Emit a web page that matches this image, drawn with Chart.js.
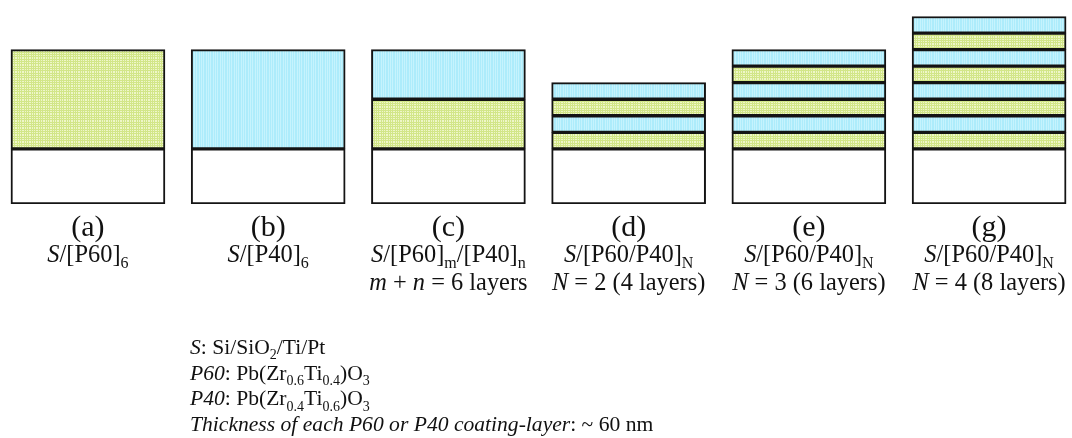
<!DOCTYPE html>
<html>
<head>
<meta charset="utf-8">
<script src="https://cdn.jsdelivr.net/npm/chart.js@4.4.1/dist/chart.umd.min.js"></script>
<style>
  html, body { margin: 0; padding: 0; background: #fff; }
  #wrap { width: 1072px; height: 438px; }
</style>
</head>
<body>
<div id="wrap"><canvas id="stackChart" width="1072" height="438"></canvas></div>
<script>
// ---- data (relative thickness, nm) ----
const panels = ['(a)', '(b)', '(c)', '(d)', '(e)', '(g)'];
const substrate = [200, 200, 200, 200, 200, 200];
// film segments from bottom to top; null = no segment
const seg1 = [360, 360, 180, 60, 60, 60];
const seg2 = [null, null, 180, 60, 60, 60];
const seg3 = [null, null, null, 60, 60, 60];
const seg4 = [null, null, null, 60, 60, 60];
const seg5 = [null, null, null, null, 60, 60];
const seg6 = [null, null, null, null, 60, 60];
const seg7 = [null, null, null, null, null, 60];
const seg8 = [null, null, null, null, null, 60];
// material of each segment per panel
const mat1 = ['P60', 'P40', 'P60', 'P60', 'P60', 'P60'];
const mat2 = ['P60', 'P40', 'P40', 'P40', 'P40', 'P40'];
const matOdd = 'P60';
const matEven = 'P40';

// label lines under each stack: [text, style] with style '' | 'i' | 'sub'
const line2 = [
  [['S', 'i'], ['/[P60]', ''], ['6', 'sub']],
  [['S', 'i'], ['/[P40]', ''], ['6', 'sub']],
  [['S', 'i'], ['/[P60]', ''], ['m', 'sub'], ['/[P40]', ''], ['n', 'sub']],
  [['S', 'i'], ['/[P60/P40]', ''], ['N', 'sub']],
  [['S', 'i'], ['/[P60/P40]', ''], ['N', 'sub']],
  [['S', 'i'], ['/[P60/P40]', ''], ['N', 'sub']]
];
const line3 = [
  [],
  [],
  [['m', 'i'], [' + ', ''], ['n', 'i'], [' = 6 layers', '']],
  [['N', 'i'], [' = 2 (4 layers)', '']],
  [['N', 'i'], [' = 3 (6 layers)', '']],
  [['N', 'i'], [' = 4 (8 layers)', '']]
];
const notes = [
  [['S', 'i'], [': Si/SiO', ''], ['2', 'sub'], ['/Ti/Pt', '']],
  [['P60', 'i'], [': Pb(Zr', ''], ['0.6', 'sub'], ['Ti', ''], ['0.4', 'sub'], [')O', ''], ['3', 'sub']],
  [['P40', 'i'], [': Pb(Zr', ''], ['0.4', 'sub'], ['Ti', ''], ['0.6', 'sub'], [')O', ''], ['3', 'sub']],
  [['Thickness of each P60 or P40 coating-layer', 'i'], [': ~ 60 nm', '']]
];

(function () {
  'use strict';

  const SERIF = '"Liberation Serif", "Times New Roman", serif';

  // textured fills like the original schematic
  function makePattern(base, line, gridH) {
    const c = document.createElement('canvas');
    c.width = 7; c.height = 7;
    const g = c.getContext('2d');
    g.fillStyle = base;
    g.fillRect(0, 0, 7, 7);
    g.fillStyle = line;
    [0, 3, 5].forEach(p => {
      g.fillRect(p, 0, 1, 7);
      if (gridH) g.fillRect(0, p, 7, 1);
    });
    return g.createPattern(c, 'repeat');
  }
  const fills = {
    P60: makePattern('#eef6c8', '#d2e688', true),
    P40: makePattern('#adecfb', '#c6f3fd', false)
  };

  const segs = [seg1, seg2, seg3, seg4, seg5, seg6, seg7, seg8];
  function segMaterial(k, i) {
    if (k === 0) return mat1[i];
    if (k === 1) return mat2[i];
    return k % 2 === 0 ? matOdd : matEven;
  }

  const toPoints = arr => arr.map((v, i) => ({ x: i, y: v }));
  const barBase = {
    barThickness: 154,
    borderColor: '#141414',
    borderWidth: 2,
    borderSkipped: false
  };

  const datasets = [Object.assign({
    label: 'Substrate',
    data: toPoints(substrate),
    backgroundColor: '#ffffff'
  }, barBase)];
  segs.forEach((s, k) => {
    datasets.push(Object.assign({
      label: 'Layer ' + (k + 1),
      data: toPoints(s),
      backgroundColor: s.map((v, i) => fills[segMaterial(k, i)])
    }, barBase));
  });

  // rich text: italic runs and subscripts
  function fontFor(st, size) {
    if (st === 'i') return 'italic ' + size + 'px ' + SERIF;
    if (st === 'sub') return Math.round(size * 0.66) + 'px ' + SERIF;
    return size + 'px ' + SERIF;
  }
  function richWidth(ctx, runs, size) {
    let w = 0;
    runs.forEach(([t, st]) => {
      ctx.font = fontFor(st, size);
      w += ctx.measureText(t).width;
    });
    return w;
  }
  function drawRich(ctx, runs, x, y, size, align) {
    let cx = align === 'center' ? x - richWidth(ctx, runs, size) / 2 : x;
    ctx.textAlign = 'left';
    ctx.textBaseline = 'alphabetic';
    runs.forEach(([t, st]) => {
      ctx.font = fontFor(st, size);
      ctx.fillText(t, cx, st === 'sub' ? y + size * 0.24 : y);
      cx += ctx.measureText(t).width;
    });
  }

  const labelsPlugin = {
    id: 'labelsPlugin',
    afterDraw(chart) {
      const ctx = chart.ctx;
      const xs = chart.scales.x;
      ctx.save();
      ctx.fillStyle = '#111';
      panels.forEach((p, i) => {
        const cx = xs.getPixelForValue(i);
        ctx.font = '30px ' + SERIF;
        ctx.textAlign = 'center';
        ctx.textBaseline = 'alphabetic';
        ctx.fillText(p, cx, 236);
        drawRich(ctx, line2[i], cx, 262, 24.4, 'center');
        if (line3[i].length) drawRich(ctx, line3[i], cx, 290, 24.4, 'center');
      });
      notes.forEach((runs, j) => {
        drawRich(ctx, runs, 190, 354 + j * 25.7, 21.6, 'left');
      });
      ctx.restore();
    }
  };

  new Chart(document.getElementById('stackChart'), {
    type: 'bar',
    data: { datasets },
    options: {
      responsive: false,
      animation: false,
      layout: { padding: { top: 0, left: 0, right: 0, bottom: 234 } },
      plugins: { legend: { display: false }, tooltip: { enabled: false } },
      scales: {
        x: { type: 'linear', min: -0.488, max: 5.46, offset: false, stacked: true, display: false },
        y: { min: 0, max: 740, stacked: true, display: false }
      }
    },
    plugins: [labelsPlugin]
  });
})();
</script>
</body>
</html>
